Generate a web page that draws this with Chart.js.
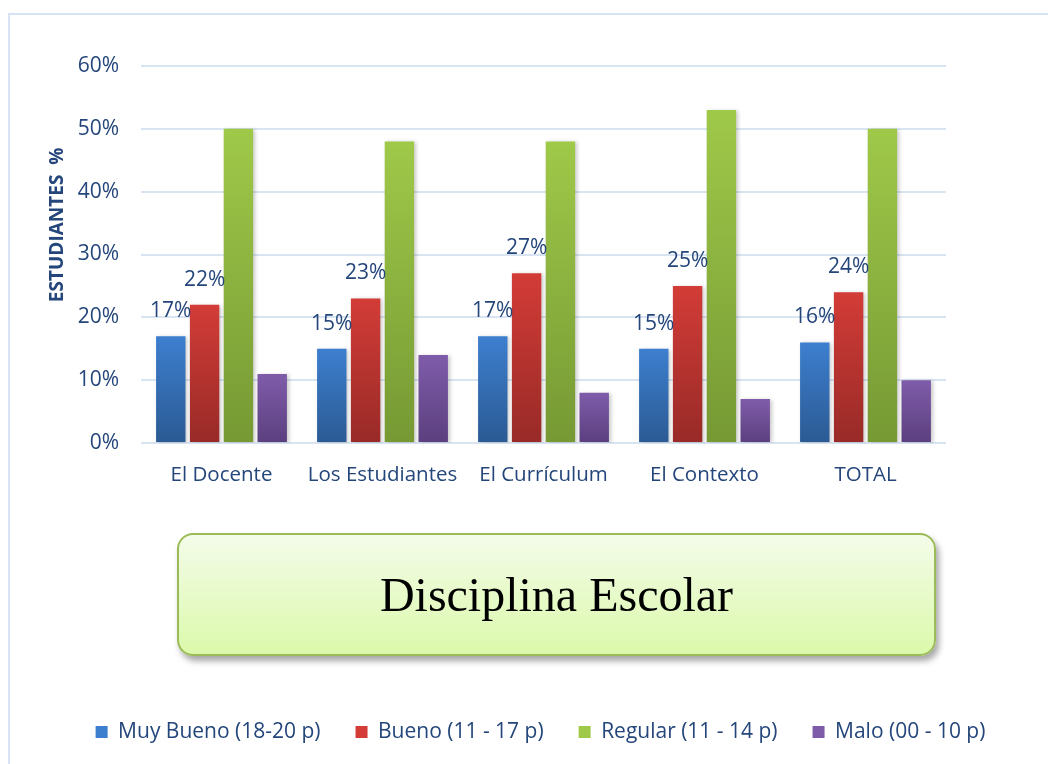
<!DOCTYPE html>
<html>
<head>
<meta charset="utf-8">
<script src="https://cdn.jsdelivr.net/npm/chart.js@4.4.1/dist/chart.umd.min.js"></script>
<style>
  body { margin: 0; background: #fff; }
  #wrap { position: relative; width: 1048px; height: 764px; overflow: hidden; }
  #frame { position: absolute; left: 8px; top: 13px; width: 1060px; height: 780px;
           border-top: 2px solid #D7E3F3; border-left: 2px solid #D7E3F3; }
  #chart { position: absolute; left: 0; top: 0; }
  #titleBox { position: absolute; left: 177px; top: 533px; width: 755px; height: 119px;
              border: 2px solid #9BBB59; border-radius: 16px;
              background: linear-gradient(#F4FCE9, #DBF9AB);
              box-shadow: 3px 5px 6px rgba(0,0,0,0.35);
              display: flex; align-items: center; justify-content: center;
              font-family: 'Liberation Serif', 'DejaVu Serif', serif; font-size: 48px; color: #000; }
</style>
</head>
<body>
<div id="wrap">
  <div id="frame"></div>
  <canvas id="chart" width="1048" height="764"></canvas>
  <div id="titleBox">Disciplina Escolar</div>
</div>
<script>
  const categories = ['El Docente', 'Los Estudiantes', 'El Currículum', 'El Contexto', 'TOTAL'];
  const seriesNames = ['Muy Bueno (18-20 p)', 'Bueno (11 - 17 p)', 'Regular (11 - 14 p)', 'Malo (00 - 10 p)'];
  const muyBueno = [17, 15, 17, 15, 16];
  const bueno = [22, 23, 27, 25, 24];
  const regular = [50, 48, 48, 53, 50];
  const malo = [11, 14, 8, 7, 10];
  const yTicks = [0, 10, 20, 30, 40, 50, 60];

  // top / bottom colour of each series gradient
  const colors = [
    ['#3D7FCF', '#2B5A93'],
    ['#D33C37', '#982A27'],
    ['#9FC949', '#769934'],
    ['#7F5CAA', '#5B3F7E']
  ];

  const textColor = '#24467A';
  const baseFont = "'Open Sans', 'Noto Sans', sans-serif";

  function barGradient(i) {
    return function(ctx) {
      const chart = ctx.chart;
      const y = chart.scales.y;
      if (!y || ctx.type !== 'data') return colors[i][0];
      const top = y.getPixelForValue(ctx.raw);
      const bottom = y.getPixelForValue(0);
      const g = chart.ctx.createLinearGradient(0, top, 0, bottom);
      g.addColorStop(0, colors[i][0]);
      g.addColorStop(1, colors[i][1]);
      return g;
    };
  }

  // % labels over the first two series only
  const valueLabels = {
    id: 'valueLabels',
    afterDatasetsDraw(chart) {
      const ctx = chart.ctx;
      ctx.save();
      ctx.font = '21px ' + baseFont;
      ctx.fillStyle = textColor;
      ctx.textAlign = 'center';
      ctx.textBaseline = 'middle';
      [0, 1].forEach(function(di) {
        const meta = chart.getDatasetMeta(di);
        meta.data.forEach(function(bar, k) {
          ctx.fillText(chart.data.datasets[di].data[k] + '%', bar.x, bar.y - 25);
        });
      });
      ctx.restore();
    }
  };

  const barShadow = {
    id: 'barShadow',
    beforeDatasetsDraw(chart) {
      const ctx = chart.ctx;
      ctx.save();
      ctx.shadowColor = 'rgba(0,0,0,0.22)';
      ctx.shadowBlur = 4;
      ctx.shadowOffsetX = 2;
      ctx.shadowOffsetY = 1;
    },
    afterDatasetsDraw(chart) {
      chart.ctx.restore();
    }
  };

  const seriesData = [muyBueno, bueno, regular, malo];

  const data = {
    labels: categories,
    datasets: seriesNames.map(function(name, i) {
      return {
        label: name,
        data: seriesData[i],
        backgroundColor: barGradient(i),
        borderWidth: 0,
        categoryPercentage: 0.84,
        barPercentage: 0.87
      };
    })
  };

  const config = {
    type: 'bar',
    data: data,
    plugins: [barShadow, valueLabels],
    options: {
      responsive: false,
      animation: false,
      layout: { padding: { left: 33, right: 0, top: 66, bottom: 11.5 } },
      plugins: {
        tooltip: { enabled: false },
        legend: {
          position: 'bottom',
          labels: {
            color: textColor,
            font: { family: baseFont, size: 21 },
            boxWidth: 12,
            boxHeight: 12,
            padding: 35,
            generateLabels: function(chart) {
              return chart.data.datasets.map(function(ds, i) {
                return {
                  text: ds.label,
                  fillStyle: colors[i][0],
                  strokeStyle: colors[i][0],
                  lineWidth: 0,
                  fontColor: textColor,
                  datasetIndex: i
                };
              });
            }
          }
        }
      },
      scales: {
        x: {
          grid: { display: false },
          border: { display: false },
          ticks: { color: textColor, font: { family: baseFont, size: 20.5 }, padding: 12 },
          afterFit: function(s) { s.height = 243.5; }
        },
        y: {
          min: 0,
          max: 60,
          afterBuildTicks: function(s) { s.ticks = yTicks.map(function(v) { return { value: v }; }); },
          grid: { color: '#D9E4F2', lineWidth: 2, drawTicks: false },
          border: { display: false },
          ticks: {
            color: textColor,
            font: { family: baseFont, size: 21 },
            padding: 22,
            callback: function(v) { return v + '%'; }
          },
          title: {
            display: true,
            text: '            ESTUDIANTES  %',
            color: textColor,
            font: { family: baseFont, size: 19, weight: 'bold' },
            padding: { top: 13 }
          },
          afterFit: function(s) { s.width = 108; }
        },
        y2: {
          position: 'right',
          display: true,
          grid: { display: false },
          border: { display: false },
          ticks: { display: false },
          afterFit: function(s) { s.width = 102; }
        }
      }
    }
  };

  const myChart = new Chart(document.getElementById('chart'), config);
</script>
</body>
</html>
